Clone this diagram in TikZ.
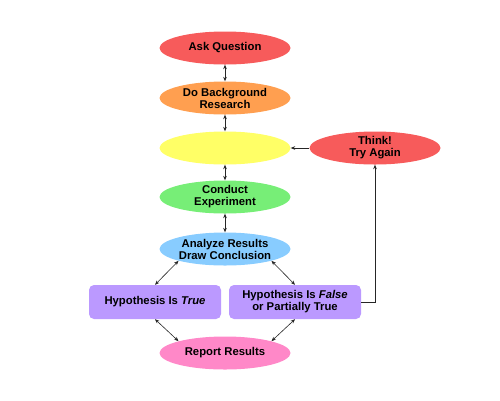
\documentclass[tikz,border=0pt]{standalone}
\usepackage{fontspec}
\setmainfont{Liberation Sans}
\usetikzlibrary{shapes.geometric,arrows.meta}
\definecolor{cred}{HTML}{F75B5B}
\definecolor{corange}{HTML}{FF9F50}
\definecolor{cyellow}{HTML}{FFFF66}
\definecolor{cgreen}{HTML}{77EE77}
\definecolor{cblue}{HTML}{88CCFF}
\definecolor{cpurple}{HTML}{BB99FF}
\definecolor{cpink}{HTML}{FF88C8}
\tikzset{
  oval/.style={ellipse, minimum width=131pt, minimum height=33pt, inner sep=0pt, align=center, font=\fontsize{11.3}{12}\selectfont\bfseries},
  hbox/.style={rectangle, rounded corners=5pt, fill=cpurple, minimum width=132pt, minimum height=34pt, inner sep=0pt, align=center, font=\fontsize{11.3}{12}\selectfont\bfseries},
  conn/.style={draw=black!85, line width=0.6pt, {Stealth[length=4.5pt,width=3.6pt]}-{Stealth[length=4.5pt,width=3.6pt]}},
  oneway/.style={draw=black!85, line width=0.6pt, -{Stealth[length=4.5pt,width=3.6pt]}}
}
\begin{document}
\begin{tikzpicture}[x=1pt,y=-1pt]
\useasboundingbox (0,0) rectangle (500,400);
\node[oval, fill=cred] (ask) at (225,48) {Ask Question};
\node[oval, fill=corange] (bg) at (225,98) {Do Background\\Research};
\node[oval, fill=cyellow] (ye) at (225,148) {};
\node[oval, fill=cred] (th) at (375,148) {Think!\\Try Again};
\node[oval, fill=cgreen] (ce) at (225,197) {Conduct\\Experiment};
\node[oval, fill=cblue] (an) at (225,249) {Analyze Results\\Draw Conclusion};
\node[hbox] (tr) at (155,302) {Hypothesis Is \textit{True}};
\node[hbox] (fa) at (295,302) {Hypothesis Is \textit{False}\\or Partially True};
\node[oval, fill=cpink] (rr) at (225,353) {Report Results};
\draw[conn] (ask.south) -- (bg.north);
\draw[conn] (bg.south) -- (ye.north);
\draw[conn] (ye.south) -- (ce.north);
\draw[conn] (ce.south) -- (an.north);
\draw[conn] (an.south west) -- (tr.north);
\draw[conn] (an.south east) -- (fa.north);
\draw[conn] (tr.south) -- (rr.north west);
\draw[conn] (fa.south) -- (rr.north east);
\draw[oneway] (th.west) -- (ye.east);
\draw[oneway] (fa.east) -| (th.south);
\end{tikzpicture}
\end{document}
